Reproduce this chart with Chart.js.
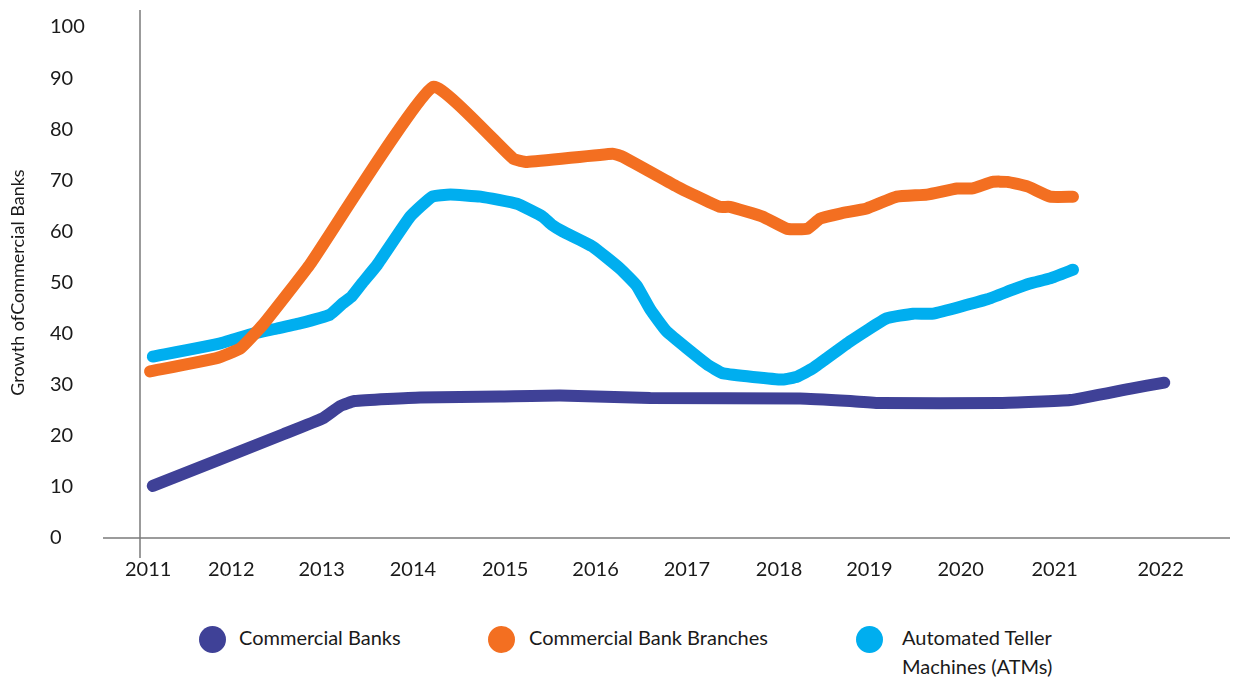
<!DOCTYPE html>
<html>
<head>
<meta charset="utf-8">
<script src="https://cdn.jsdelivr.net/npm/chart.js@4"></script>
<style>
  html, body { margin: 0; padding: 0; background: #fff; }
  #wrap { position: relative; width: 1234px; height: 679px; font-family: Lato, sans-serif; color: #1a1a1a; }
  #chart { position: absolute; left: 0; top: 0; }
  .key { position: absolute; top: 623px; font-size: 20px; line-height: 29px; }
  .key i { position: absolute; top: 3px; width: 27px; height: 27px; border-radius: 50%; }
  .k0 { left: 239px; } .k0 i { left: -40px; }
  .k1 { left: 529px; } .k1 i { left: -41px; }
  .k2 { left: 902px; width: 160px; } .k2 i { left: -46px; }
</style>
</head>
<body>
<div id="wrap">
  <canvas id="chart" width="1234" height="616"></canvas>
  <div id="legend"></div>
</div>
<script>
const seriesNames = ['Commercial Banks', 'Commercial Bank Branches', 'Automated Teller Machines (ATMs)'];
const seriesColors = ['#3f4197', '#f36f21', '#00aeef'];

const bankYears = [2011.15, 2012.58, 2013.01, 2013.20, 2013.36, 2014.08, 2014.95, 2015.61, 2016.60, 2018.24, 2018.79, 2019.12, 2020.43, 2021.20, 2021.85, 2022.23];
const bankValues = [10.2, 20.3, 23.4, 25.8, 26.8, 27.5, 27.7, 27.9, 27.4, 27.3, 26.8, 26.4, 26.4, 27.0, 29.2, 30.4];

const branchYears = [2011.12, 2011.85, 2012.11, 2012.36, 2012.87, 2014.22, 2015.10, 2015.25, 2016.19, 2016.30, 2016.89, 2017.07, 2017.36, 2017.47, 2017.83, 2018.10, 2018.32, 2018.46, 2018.68, 2018.97, 2019.30, 2019.63, 2019.96, 2020.13, 2020.35, 2020.51, 2020.73, 2020.98, 2021.23];
const branchValues = [32.6, 35.2, 37.1, 41.8, 53.5, 88.3, 74.2, 73.6, 75.2, 74.6, 68.8, 67.2, 64.8, 64.8, 62.9, 60.5, 60.5, 62.5, 63.5, 64.5, 66.8, 67.2, 68.4, 68.4, 69.7, 69.7, 68.8, 66.8, 66.8];

const atmYears = [2011.15, 2011.89, 2012.25, 2012.51, 2012.76, 2013.09, 2013.23, 2013.33, 2013.44, 2013.61, 2013.97, 2014.21, 2014.41, 2014.74, 2015.14, 2015.42, 2015.52, 2015.64, 2015.97, 2016.27, 2016.45, 2016.60, 2016.78, 2017.22, 2017.40, 2018.05, 2018.21, 2018.38, 2018.79, 2019.19, 2019.48, 2019.70, 2020.29, 2020.57, 2020.76, 2020.98, 2021.23];
const atmValues = [35.5, 38.1, 40.0, 41.0, 42.0, 43.7, 45.9, 47.3, 49.8, 53.5, 62.9, 66.8, 67.2, 66.8, 65.4, 62.9, 61.3, 60.0, 57.0, 52.7, 49.4, 44.7, 40.4, 34.0, 32.2, 31.0, 31.6, 33.2, 38.5, 43.0, 43.9, 43.9, 46.7, 48.6, 49.8, 50.8, 52.5];

// year labels along the bottom and where each one sits on the time axis
const tickLabels = ['2011', '2012', '2013', '2014', '2015', '2016', '2017', '2018', '2019', '2020', '2021', '2022'];
const tickYears = [2011.10, 2012.01, 2013.0, 2014.0, 2015.01, 2016.0, 2017.0, 2018.01, 2019.0, 2020.0, 2021.03, 2022.19];

const yTitle = 'Growth ofCommercial Banks';

const toPoints = (xs, ys) => xs.map((x, i) => ({ x: x, y: ys[i] }));

// axis lines run past the plot area, and the y title sits left of left-aligned ticks
const axisLines = {
  id: 'axisLines',
  beforeDatasetsDraw(chart) {
    const { ctx, scales: { x, y } } = chart;
    const x0 = x.getPixelForValue(x.min);
    const y0 = y.getPixelForValue(0);
    ctx.save();
    ctx.strokeStyle = '#7b7b7b';
    ctx.lineWidth = 1.5;
    ctx.beginPath();
    ctx.moveTo(x0, 10);
    ctx.lineTo(x0, y0 + 20);
    ctx.moveTo(x0 - 37, y0);
    ctx.lineTo(x.right, y0);
    ctx.stroke();
    ctx.translate(18, (y.top + y.bottom) / 2);
    ctx.rotate(-Math.PI / 2);
    ctx.fillStyle = '#1a1a1a';
    ctx.font = '18px Lato';
    ctx.textAlign = 'center';
    ctx.textBaseline = 'middle';
    ctx.fillText(yTitle, 0, 0);
    ctx.restore();
  }
};

const makeSet = (i, xs, ys) => ({
  label: seriesNames[i],
  data: toPoints(xs, ys),
  borderColor: seriesColors[i],
  backgroundColor: seriesColors[i],
  borderWidth: 12,
  borderCapStyle: 'round',
  borderJoinStyle: 'round',
  pointRadius: 0,
  tension: 0.12
});

const chart = new Chart(document.getElementById('chart'), {
  type: 'line',
  data: {
    datasets: [
      makeSet(0, bankYears, bankValues),
      makeSet(1, branchYears, branchValues),
      makeSet(2, atmYears, atmValues)
    ]
  },
  options: {
    responsive: false,
    animation: false,
    layout: { padding: { left: 50, right: 4, top: 27, bottom: 14 } },
    plugins: {
      legend: { display: false },
      tooltip: { enabled: false }
    },
    scales: {
      x: {
        type: 'linear',
        min: 2011.01,
        max: 2022.95,
        grid: { display: false, drawTicks: false },
        border: { display: false },
        afterBuildTicks(scale) {
          scale.ticks = tickYears.map(v => ({ value: v }));
        },
        ticks: {
          padding: 20,
          maxRotation: 0,
          autoSkip: false,
          color: '#1a1a1a',
          font: { family: 'Lato', size: 20 },
          callback: (v, i) => tickLabels[i]
        }
      },
      y: {
        min: 0,
        max: 100,
        grid: { display: false, drawTicks: false },
        border: { display: false },
        afterFit(scale) { scale.width = 90; },
        ticks: {
          stepSize: 10,
          crossAlign: 'far',
          color: '#1a1a1a',
          font: { family: 'Lato', size: 20 }
        }
      }
    }
  },
  plugins: [axisLines]
});

// legend below the chart, built from the dataset labels
document.getElementById('legend').innerHTML = chart.data.datasets.map((d, i) =>
  '<div class="key k' + i + '"><i style="background:' + d.borderColor + '"></i>' + d.label + '</div>'
).join('');
</script>
</body>
</html>
